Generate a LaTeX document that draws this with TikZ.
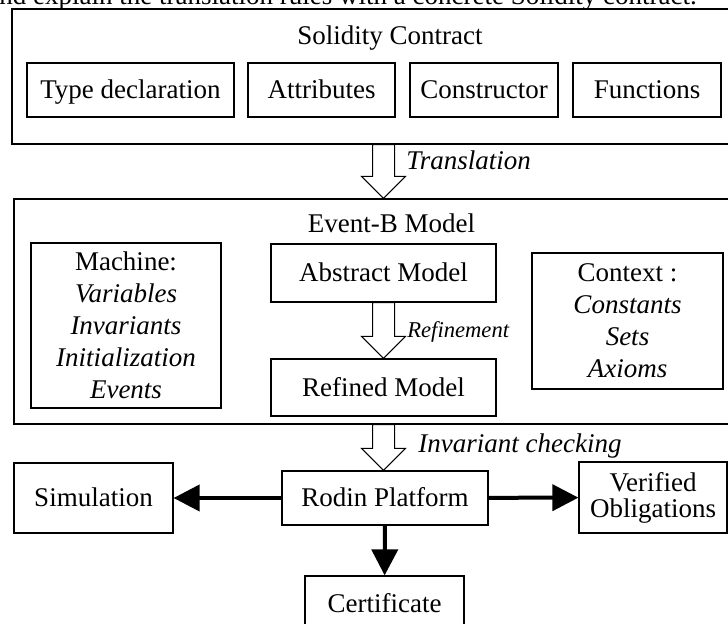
\documentclass[tikz,border=0pt]{standalone}
\usepackage{fontspec}
\setmainfont{Liberation Serif}
\usetikzlibrary{calc,arrows.meta}

% open block arrow, from a top point down to a tip
\newcommand{\hollowarrow}[2]{%
  \draw[hollow] ($(#1)+(-11,0)$) -- ($(#2)+(-11,-22)$) -- ($(#2)+(-22,-22)$) -- (#2)
    -- ($(#2)+(22,-22)$) -- ($(#2)+(11,-22)$) -- ($(#1)+(11,0)$) -- cycle;}

\begin{document}
\begin{tikzpicture}[x=0.5pt,y=-0.5pt,every node/.style={font=\fontsize{13.5}{16}\selectfont}]
		\tikzstyle{box}=[draw,line width=0.6pt,inner sep=0pt,align=center]
		\tikzstyle{line1}=[box,text height=12pt,text depth=3pt]
		\tikzstyle{frame}=[draw,line width=0.6pt,inner sep=0pt]
		\tikzstyle{txt}=[inner sep=0pt,anchor=base]
		\tikzstyle{hollow}=[draw,fill=white,line width=0.5pt]
		\tikzstyle{heavy}=[line width=2pt,-{Triangle[length=13pt,width=13pt]}]
		\useasboundingbox (0,0) rectangle (728,624);

		\node[txt,anchor=base west] (prose) at (-1,5) {nd explain the translation rules with a concrete Solidity contract.};

		% Solidity contract
		\node[frame,minimum width=378pt,minimum height=67.5pt] (solidity) at (390,76.5) {};
		\node[txt] (soltitle) at (390,45) {Solidity Contract};
		\node[line1,minimum width=103.5pt,minimum height=27pt] (typedecl) at (130.5,90) {Type declaration};
		\node[line1,minimum width=73.5pt,minimum height=27pt] (attrib) at (321.5,90) {Attributes};
		\node[line1,minimum width=74pt,minimum height=27pt] (constr) at (484,90) {Constructor};
		\node[line1,minimum width=74pt,minimum height=27pt] (funcs) at (647,90) {Functions};

		% Event-B model
		\node[frame,minimum width=377pt,minimum height=112.5pt] (eventb) at (391,311.5) {};
		\node[txt] (ebtitle) at (391.5,233) {Event-B Model};
		\node[box,minimum width=95pt,minimum height=82.5pt] (machine) at (126,325.5)
			{Machine:\\ \itshape Variables\\ \itshape Invariants\\ \itshape Initialization\\ \itshape Events};
		\node[line1,minimum width=112.5pt,minimum height=29pt] (abstract) at (383.5,273) {Abstract Model};
		\node[line1,minimum width=112.5pt,minimum height=28.5pt] (refined) at (383.5,387.5) {Refined Model};
		\node[box,minimum width=95.5pt,minimum height=68pt] (context) at (627.5,321)
			{Context :\\ \itshape Constants\\ \itshape Sets\\ \itshape Axioms};

		% tools
		\node[line1,minimum width=103pt,minimum height=27pt] (rodin) at (385,498) {Rodin Platform};
		\node[line1,minimum width=79.5pt,minimum height=35pt] (simul) at (93.5,498) {Simulation};
		\node[box,minimum width=74pt,minimum height=35.5pt,font=\fontsize{13.5}{13}\selectfont] (verified) at (653,497.5) {Verified\\ Obligations};
		\node[line1,minimum width=79.5pt,minimum height=27pt] (certif) at (384.5,603) {Certificate};

		\coordinate (trtop) at (abstract |- solidity.south);
		\coordinate (trtip) at (abstract |- eventb.north);
		\coordinate (ictop) at (abstract |- eventb.south);
		\coordinate (ictip) at (abstract |- rodin.north);
		\hollowarrow{trtop}{trtip}
		\hollowarrow{abstract.south}{refined.north}
		\hollowarrow{ictop}{ictip}

		\node[txt,anchor=base west] (translation) at (406,170) {\itshape Translation};
		\node[txt,anchor=base west,font=\fontsize{11.3}{13}\selectfont] (refinement) at (407,338) {\itshape Refinement};
		\node[txt,anchor=base west] (invcheck) at (418,453) {\itshape Invariant checking};

		\draw[heavy] (rodin) -- (simul);
		\draw[heavy] (rodin) -- (verified);
		\draw[heavy] (rodin) -- (certif);
	\end{tikzpicture}
\end{document}
